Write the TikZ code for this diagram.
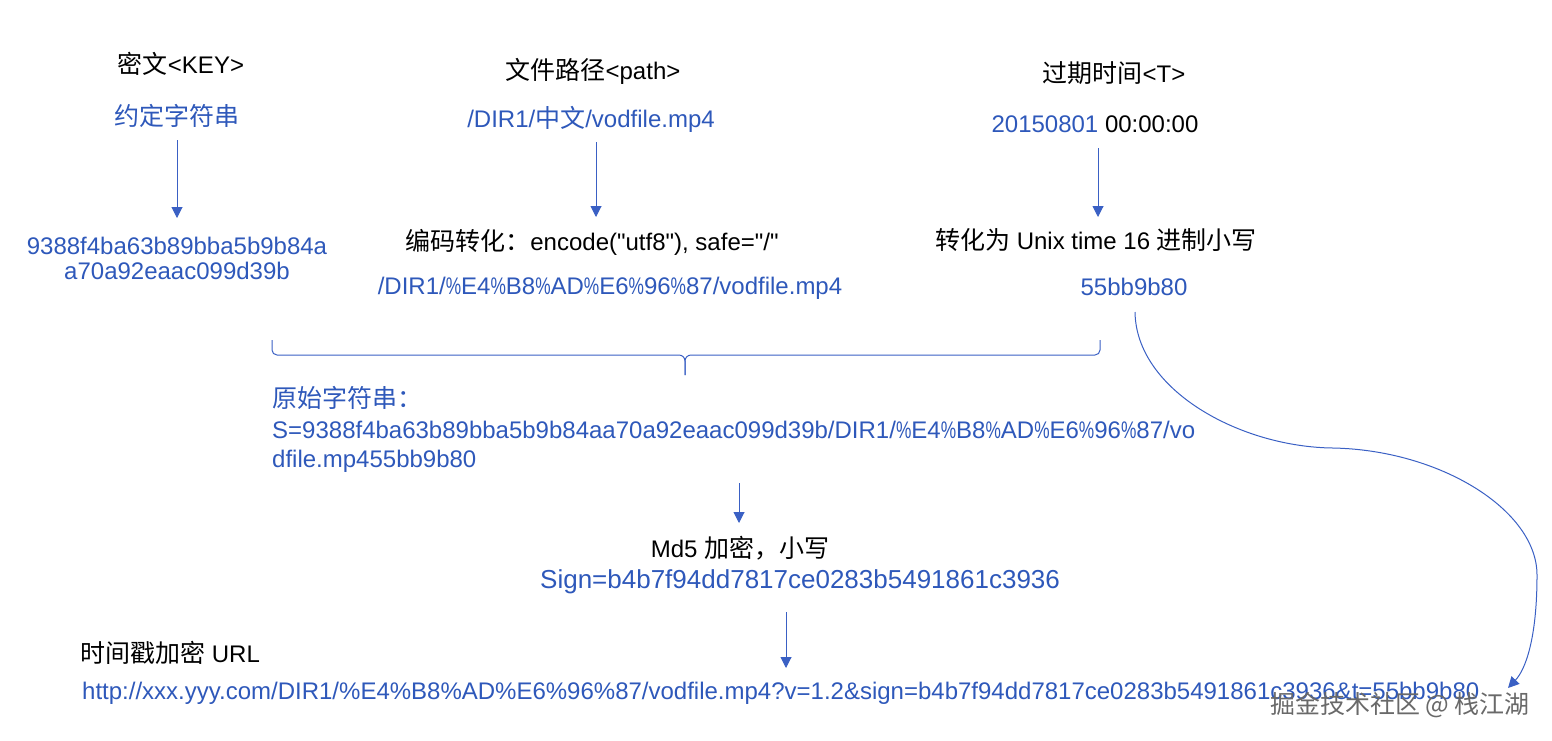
\documentclass[tikz,border=0pt]{standalone}
\usepackage{fontspec}
\setmainfont{Liberation Sans}[Ligatures=TeXOff]
\newfontfamily\zhf{Noto Sans CJK SC}
\newcommand\zh[1]{{\zhf\fontsize{25}{28}\selectfont #1}}
\newcommand\pc{\scalebox{0.72}[1]{\%}}
\usetikzlibrary{arrows.meta}
\definecolor{tb}{RGB}{46,88,186}
\definecolor{lb}{RGB}{58,96,196}
\definecolor{wm}{RGB}{105,105,105}
\tikzset{
  lbl/.style={inner sep=0pt, font=\fontsize{24}{27}\selectfont, text=black},
  val/.style={inner sep=0pt, font=\fontsize{24}{27}\selectfont, text=tb},
  conn/.style={draw=lb, line width=1pt, -{Triangle[width=11pt,length=11pt]}},
}
\begin{document}
\begin{tikzpicture}[x=1pt,y=-1pt]
\useasboundingbox (0,0) rectangle (1552,740);
% column 1
\node[lbl] (key) at (181,64) {\zh{密文}<KEY>};
\node[val] (keyv) at (177,116) {\zh{约定字符串}};
\node[val,align=center] (keyh) at (177,258) {9388f4ba63b89bba5b9b84a\\[-2pt]a70a92eaac099d39b};
\coordinate (a1s) at (177,140);
\coordinate (a1e) at (177,218);
\draw[conn] (a1s) -- (a1e);
% column 2
\node[lbl] (path) at (593,71) {\zh{文件路径}<path>};
\node[val] (pathv) at (591,119) {/DIR1/\zh{中文}/vodfile.mp4};
\node[lbl] (enc) at (592,242) {\zh{编码转化：}encode("utf8"), safe="/"};
\node[val] (pathe) at (610,288) {/DIR1/\pc E4\pc B8\pc AD\pc E6\pc 96\pc 87/vodfile.mp4};
\coordinate (a2s) at (596,142);
\coordinate (a2e) at (596,217);
\draw[conn] (a2s) -- (a2e);
% column 3
\node[lbl] (tim) at (1114,73) {\zh{过期时间}<T>};
\node[lbl] (timv) at (1095,124) {\textcolor{tb}{20150801} 00:00:00};
\node[lbl] (unix) at (1096,240) {\zh{转化为} Unix time 16 \zh{进制小写}};
\node[val] (hex) at (1134,287) {55bb9b80};
\coordinate (a3s) at (1098,148);
\coordinate (a3e) at (1098,217);
\draw[conn] (a3s) -- (a3e);
% brace
\coordinate (bl) at (272,340);
\coordinate (br) at (1100,340);
\coordinate (bm) at (685,375);
\draw[lb, line width=1pt] (bl) -- (272,350) arc[start angle=180, end angle=90, radius=5] -- (679,355)
  arc[start angle=270, end angle=360, radius=6] -- (bm);
\draw[lb, line width=1pt] (br) -- (1100,350) arc[start angle=0, end angle=90, radius=5] -- (691,355)
  arc[start angle=270, end angle=180, radius=6] -- (bm);
% original string
\node[val,anchor=west] (orig) at (272,398) {\zh{原始字符串：}};
\node[val,anchor=west] (s1) at (272,430) {S=9388f4ba63b89bba5b9b84aa70a92eaac099d39b/DIR1/\pc E4\pc B8\pc AD\pc E6\pc 96\pc 87/vo};
\node[val,anchor=west] (s2) at (272,461) {dfile.mp455bb9b80};
\coordinate (a4s) at (739,483);
\coordinate (a4e) at (739,523);
\draw[conn] (a4s) -- (a4e);
% md5
\node[lbl] (md5) at (740,548) {Md5 \zh{加密，小写}};
\begin{scope}
\clip (500,560) rectangle (1072,605);
\node[val,anchor=west,font=\fontsize{26}{29}\selectfont] (sign) at (540,582) {Sign=b4b7f94dd7817ce0283b5491861c3936};
\end{scope}
\coordinate (a5s) at (786,612);
\coordinate (a5e) at (786,668);
\draw[conn] (a5s) -- (a5e);
% url
\node[lbl,anchor=west] (urlt) at (80,653) {\zh{时间戳加密} URL};
\node[val,anchor=west] (url) at (82,693) {http://xxx.yyy.com/DIR1/\%E4\%B8\%AD\%E6\%96\%87/vodfile.mp4?v=1.2\&sign=b4b7f94dd7817ce0283b5491861c3936\&t=55bb9b80};
% curve
\coordinate (c0) at (1135,312);
\coordinate (cm) at (1333,448);
\coordinate (cr) at (1537,575);
\coordinate (cend) at (1508,688);
\draw[lb, line width=1pt, -{Triangle[width=11pt,length=11pt]}]
  (c0) .. controls (1136,390) and (1240,447) .. (cm)
  .. controls (1440,450) and (1537,510) .. (cr)
  .. controls (1537,640) and (1525,670) .. (cend);
% watermark
\node[inner sep=0pt, text=wm] (wmk) at (1400,705) {\zh{掘金技术社区 @ 栈江湖}};
\end{tikzpicture}
\end{document}
